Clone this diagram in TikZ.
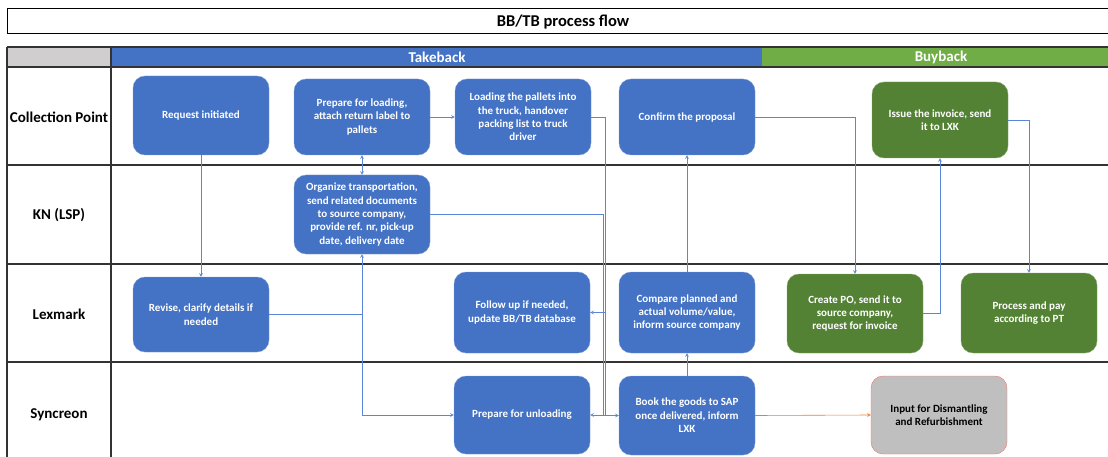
\documentclass[tikz,border=0pt]{standalone}
\usepackage{fontspec}
\setmainfont{Carlito}
\usetikzlibrary{calc}
\definecolor{tbblue}{HTML}{4472C4}
\definecolor{bbgreen}{HTML}{548235}
\definecolor{hdgreen}{HTML}{70AD47}
\definecolor{hdgray}{HTML}{D0CECE}
\definecolor{flowblue}{HTML}{5B85D6}
\definecolor{floworange}{HTML}{ED7D31}
\definecolor{inputgray}{HTML}{BFBFBF}
\definecolor{inputedge}{HTML}{F4736E}
\tikzset{>=stealth}
\tikzset{
  task/.style={rectangle,rounded corners=12pt,fill=tbblue,draw=tbblue!70!white,text=white,
    font=\fontsize{11}{13.4}\selectfont\bfseries,align=center,
    minimum width=136pt,minimum height=78pt,inner sep=2pt},
  buy/.style={task,fill=bbgreen,draw=bbgreen!70!white},
  flow/.style={draw=flowblue,line width=0.6pt,->},
  lanename/.style={font=\fontsize{15}{17}\selectfont\bfseries},
  phase/.style={font=\fontsize{15}{17}\selectfont\bfseries,text=white},
  tableline/.style={draw=black!80,line width=1.1pt}
}

\begin{document}
\begin{tikzpicture}[x=1pt,y=-1pt]
\useasboundingbox (0,0) rectangle (1108,457);
\draw[line width=1pt] (7,9) rectangle (1112,34);
\node[font=\fontsize{16.5}{18}\selectfont\bfseries] (ttl) at (563,22) {BB/TB process flow};
\fill[hdgray] (7,47) rectangle (111,67);
\fill[tbblue] (111,47) rectangle (762,67);
\fill[hdgreen] (762,47) rectangle (1108,67);
\node[phase] (tb) at (437,57.5) {Takeback};
\node[phase] (bb) at (941,57.5) {Buyback};
\foreach \y in {47,67,165,264,362}
  \draw[tableline] (7,\y) -- (1108,\y);
\draw[tableline] (7,47) -- (7,457);
\draw[tableline] (111,47) -- (111,457);
\node[lanename] (cp) at (59,117) {Collection Point};
\node[lanename] (lsp) at (59,215) {KN (LSP)};
\node[lanename] (lxk) at (59,314) {Lexmark};
\node[lanename] (syn) at (59,415) {Syncreon};

\node[task,minimum height=79pt] (req) at (201,115.5) {Request initiated};
\node[task,minimum height=76pt] (prep) at (362,117) {Prepare for loading,\\attach return label to\\pallets};
\node[task,minimum height=76pt] (load) at (523,117) {Loading the pallets into\\the truck, handover\\packing list to truck\\driver};
\node[task,minimum height=76pt] (conf) at (687,117) {Confirm the proposal};
\node[buy,minimum height=76pt] (inv) at (940,120) {Issue the invoice, send\\it to LXK};
\node[task,minimum height=79pt] (kn) at (362,214.5) {Organize transportation,\\send related documents\\to source company,\\provide ref. nr, pick-up\\date, delivery date};
\node[task,minimum height=75pt] (rev) at (201,314.5) {Revise, clarify details if\\needed};
\node[task,minimum height=81pt] (follow) at (522,312.5) {Follow up if needed,\\update BB/TB database};
\node[task,minimum height=81pt] (comp) at (687,312.5) {Compare planned and\\actual volume/value,\\inform source company};
\node[buy,minimum height=79pt] (po) at (855,313.5) {Create PO, send it to\\source company,\\request for invoice};
\node[buy,minimum height=80pt] (pay) at (1029,313) {Process and pay\\according to PT};
\node[task,minimum height=78pt] (unload) at (522,415) {Prepare for unloading};
\node[task,minimum height=79pt] (book) at (687,415.5) {Book the goods to SAP\\once delivered, inform\\LXK};
\node[task,fill=inputgray,draw=inputedge,text=black,minimum height=78pt] (input) at (939,415) {Input for Dismantling\\and Refurbishment};

\coordinate (busA) at (605,0);
\coordinate (busB) at (603,0);
\draw[flow] (req.south) -- (rev.north);
\draw[flow,<->] (prep.south) -- (kn.north);
\draw[flow] (rev.east) -| (kn.south);
\draw[flow] (rev.east) -| (kn.south |- unload.west) -- (unload.west);
\draw[flow] (prep.east) -- (load.west);
\draw[flow] (load.east) -| (busA |- follow.east) -- (follow.east);
\draw[flow] (load.east) -| (busA |- unload.east) -- (unload.east);
\draw[flow] (kn.east) -| (busB |- book.west) -- (book.west);
\draw[flow] (book.north) -- (comp.south);
\draw[flow] (comp.north) -- (conf.south);
\draw[flow] (conf.east) -| (po.north);
\draw[flow] (po.east) -| (inv.south);
\draw[flow] (inv.east) -| (pay.north);
\draw[flow,draw=floworange] (book.east) -- (input.west);
\end{tikzpicture}
\end{document}
